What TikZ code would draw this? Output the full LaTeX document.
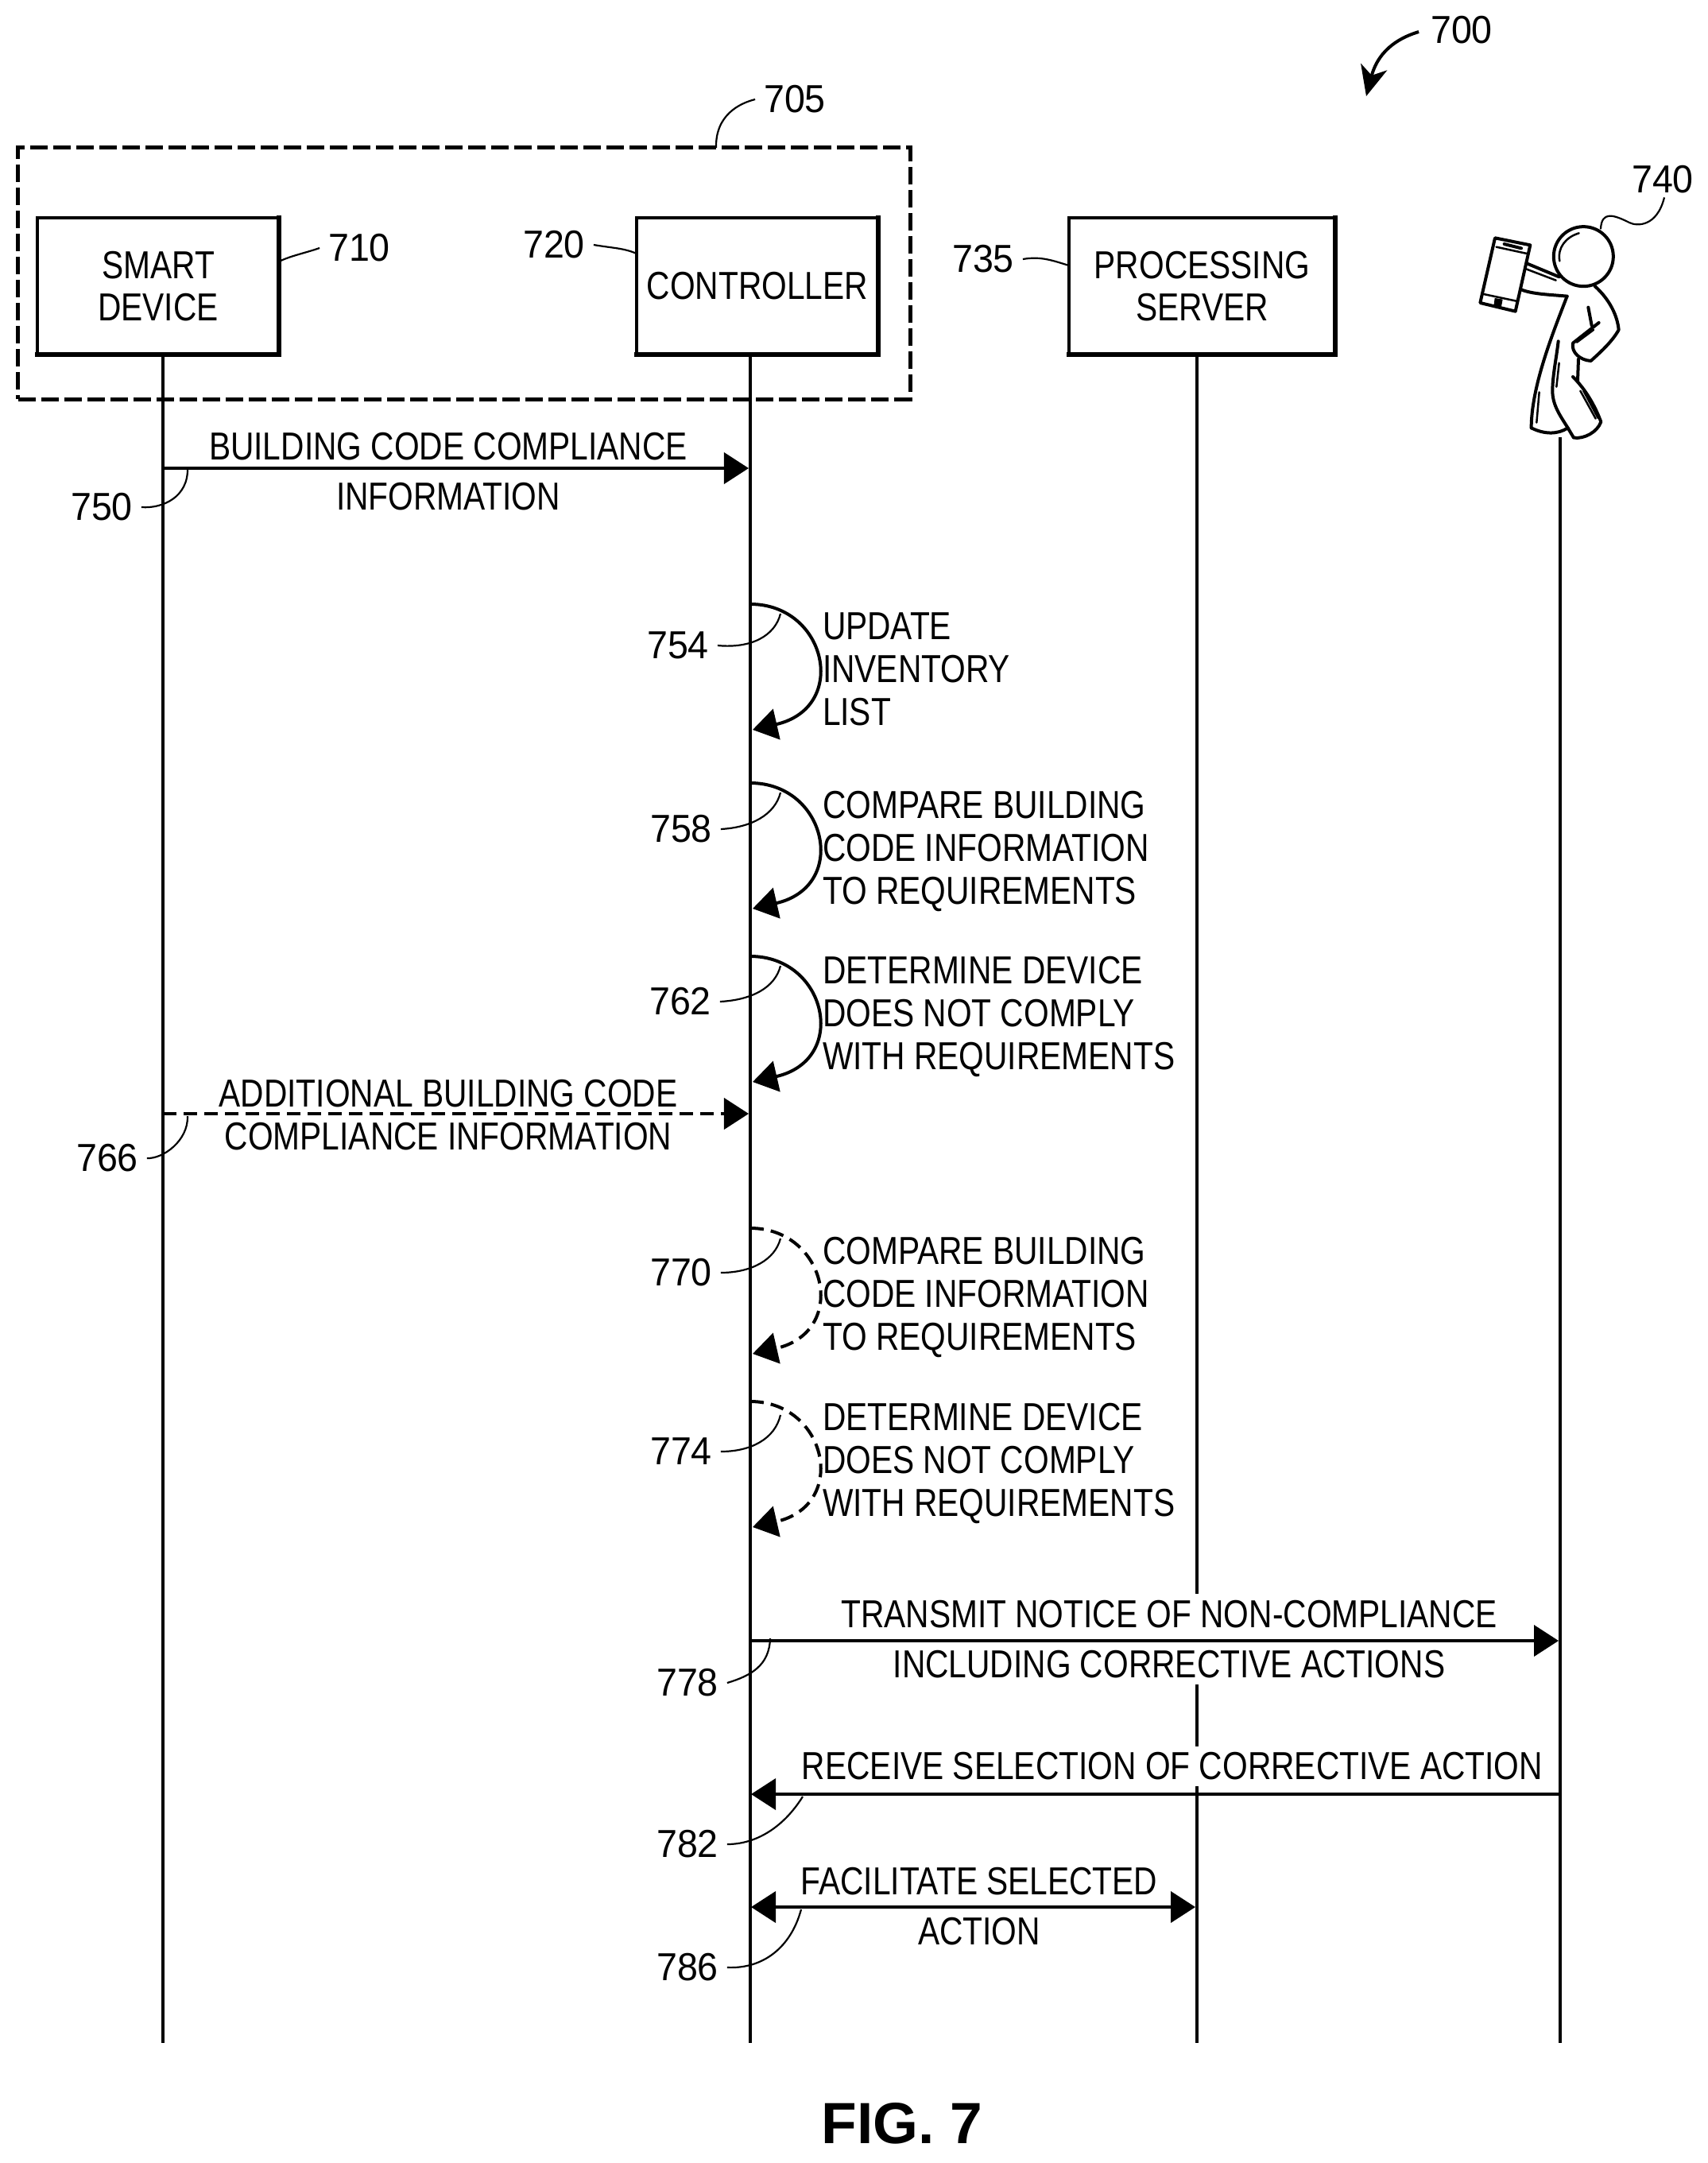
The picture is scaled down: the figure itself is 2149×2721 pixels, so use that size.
\documentclass[tikz,border=0pt]{standalone}
\usepackage{fontspec}
\setmainfont[FakeStretch=0.83]{Liberation Sans}
\newfontfamily\numfamily[FakeStretch=0.95]{Liberation Sans}
\newfontfamily\figfamily{Liberation Sans}
\newcommand{\txtfont}{\fontsize{13.95pt}{15.35pt}\selectfont}
\newcommand{\numfont}{\numfamily\fontsize{13.95pt}{15.35pt}\selectfont}
\usetikzlibrary{arrows.meta}
\tikzset{>={Triangle[length=3.1mm,width=3.9mm]}}
\tikzset{
	devbox/.style={draw, line width=.033cm, outer sep=0pt, minimum height=1.72cm, align=center, font=\txtfont, inner sep=0pt},
	boxedge/.style={line width=.06cm, line cap=rect},
	lifeline/.style={line width=.04cm},
	msgline/.style={line width=.04cm},
	dashline/.style={line width=.04cm, dash pattern=on .17cm off .09cm},
	num/.style={font=\numfont, inner sep=.11cm, outer sep=0pt},
	leader/.style={line width=.022cm},
	msgtext/.style={fill=white, align=center, font=\txtfont, inner sep=.08cm, outer sep=0pt},
	acttext/.style={anchor=west, align=left, font=\txtfont, inner sep=0pt, outer sep=0pt},
	selfloop/.style={to path={.. controls +(96,0) and +(122,-28) .. (\tikztotarget)}},
	figure/.style={line width=.04cm, line join=round, line cap=round},
	thin figure/.style={line width=.025cm, line cap=round}
}
\begin{document}
\begin{tikzpicture}[x=.01cm,y=-.01cm]
		\useasboundingbox (0,0) rectangle (2149,2721);
		
		\node[devbox, minimum width=3.04cm] (SD) at (199,360) {SMART\\[-.3pt]DEVICE};
		\node[devbox, minimum width=3.04cm] (CT) at (953,360) {CONTROLLER};
		\node[devbox, minimum width=3.35cm] (PS) at (1512.5,360) {PROCESSING\\[-.3pt]SERVER};
		\node[draw, line width=.05cm, dash pattern=on .22cm off .07cm, minimum width=11.22cm, minimum height=3.16cm, outer sep=0pt] (GR) at (584,344) {};
		
		\draw[boxedge](SD.south west) -- (SD.south east) -- (SD.north east);
		\draw[boxedge](CT.south west) -- (CT.south east) -- (CT.north east);
		\draw[boxedge](PS.south west) -- (PS.south east) -- (PS.north east);
		
		\coordinate (SDb) at (205,2570);
		\coordinate (CTb) at (944,2570);
		\coordinate (PSb) at (1506,2570);
		\coordinate (PRt) at (1963,550);
		\coordinate (PRb) at (1963,2570);
		
		\draw[lifeline](SD.south -| SDb) -- (SDb);
		\draw[lifeline](CT.south -| CTb) -- (CTb);
		\draw[lifeline](PS.south -| PSb) -- (PSb);
		\draw[lifeline](PRt) -- (PRb);
		
		% texts of the messages
		\node[msgtext] (T750) at (564,593) {BUILDING CODE COMPLIANCE\\[2.4pt]INFORMATION};
		\node[msgtext] (T766) at (564,1403) {ADDITIONAL BUILDING CODE\\COMPLIANCE INFORMATION};
		\node[msgtext] (T778) at (1471,2062) {TRANSMIT NOTICE OF NON-COMPLIANCE\\[2.4pt]INCLUDING CORRECTIVE ACTIONS};
		\node[msgtext] (T782) at (1475,2222) {RECEIVE SELECTION OF CORRECTIVE ACTION};
		\node[msgtext] (T786) at (1232,2398) {FACILITATE SELECTED\\[2.4pt]ACTION};
		
		% texts beside the controller
		\node[acttext] (T754) at (1035,842) {UPDATE\\INVENTORY\\LIST};
		\node[acttext] (T758) at (1035,1071) {COMPARE BUILDING\\CODE INFORMATION\\TO REQUIREMENTS};
		\node[acttext] (T762) at (1035,1279) {DETERMINE DEVICE\\DOES NOT COMPLY\\WITH REQUIREMENTS};
		\node[acttext] (T770) at (1035,1632) {COMPARE BUILDING\\CODE INFORMATION\\TO REQUIREMENTS};
		\node[acttext] (T774) at (1035,1841) {DETERMINE DEVICE\\DOES NOT COMPLY\\WITH REQUIREMENTS};
		
		\coordinate (M750a) at (205,589);
		\coordinate (M750b) at (942,589);
		\coordinate (M766a) at (205,1401);
		\coordinate (M766b) at (942,1401);
		\coordinate (M778a) at (944,2064);
		\coordinate (M778b) at (1961,2064);
		\coordinate (M782a) at (1963,2257);
		\coordinate (M782b) at (945,2257);
		\coordinate (M786a) at (945,2399);
		\coordinate (M786b) at (1504,2399);
		
		\draw[->, msgline](M750a) -- (M750b);
		\draw[->, dashline](M766a) -- (M766b);
		\draw[->, msgline](M778a) -- (M778b);
		\draw[->, msgline](M782a) -- (M782b);
		\draw[<->, msgline](M786a) -- (M786b);
		
		\coordinate (S754a) at (944,760);
		\coordinate (S754b) at (947,918);
		\coordinate (S758a) at (944,985);
		\coordinate (S758b) at (947,1143);
		\coordinate (S762a) at (944,1203);
		\coordinate (S762b) at (947,1361);
		\coordinate (S770a) at (944,1545);
		\coordinate (S770b) at (947,1703);
		\coordinate (S774a) at (944,1763);
		\coordinate (S774b) at (947,1921);
		
		\draw[->, msgline](S754a) to [selfloop] (S754b);
		\draw[->, msgline](S758a) to [selfloop] (S758b);
		\draw[->, msgline](S762a) to [selfloop] (S762b);
		\draw[->, dashline](S770a) to [selfloop] (S770b);
		\draw[->, dashline](S774a) to [selfloop] (S774b);
		
		% the user with the phone
		\begin{scope}[shift={(1780,180)},scale=.3333]
			\node[draw, circle, line width=.04cm, minimum size=.75cm, inner sep=0pt, outer sep=0pt] (PH) at (637,428) {};
			\draw[figure] (303,358) -- (436,385) -- (380,635) -- (247,603) -- cycle;
			\draw[thin figure] (308,392) -- (428,418);
			\draw[thin figure] (260,570) -- (388,597);
			\draw[figure] (338,381) -- (402,397);
			\fill (302,585) -- (332,590) -- (326,622) -- (298,616) -- cycle;
			\draw[figure] (425,455) -- (545,505);
			\draw[thin figure] (420,475) -- (533,518);
			\draw[figure] (400,552) .. controls (440,570) and (510,572) .. (575,578);
			\draw[figure] (575,578) .. controls (520,720) and (440,920) .. (440,1075);
			\draw[figure] (440,1075) .. controls (490,1100) and (540,1100) .. (578,1075);
			\draw[figure] (542,748) .. controls (535,810) and (520,880) .. (520,935) .. controls (520,990) and (550,1030) .. (578,1075) -- (600,1112) .. controls (640,1118) and (690,1090) .. (703,1052) .. controls (680,990) and (645,930) .. (597,882);
			\draw[figure] (618,815) -- (615,900);
			\draw[figure] (680,540) .. controls (735,590) and (765,650) .. (770,705) .. controls (745,750) and (700,790) .. (665,822) .. controls (625,820) and (590,790) .. (597,755) -- (695,678);
			\draw[figure] (655,620) -- (668,688);
			\draw[thin figure] (612,752) -- (675,705);
			\draw[thin figure] (625,935) -- (683,1040);
			\draw[thin figure] (637,935) -- (692,1038);
			\draw[thin figure] (470,940) -- (460,1055);
			\draw[thin figure] (545,830) -- (535,920);
			\draw[thin figure] (620,340) .. controls (570,355) and (538,395) .. (547,445);
			\coordinate (L740) at (702,325);
		\end{scope}
		
		% reference numbers
		\node[num] (n700) at (1839,38) {700};
		\node[num] (n705) at (1000,125) {705};
		\node[num] (n710) at (452,312) {710};
		\node[num] (n720) at (697,308) {720};
		\node[num] (n735) at (1237,326) {735};
		\node[num] (n740) at (2092,226) {740};
		\node[num] (n750) at (128,638) {750};
		\node[num] (n754) at (853,812) {754};
		\node[num] (n758) at (857,1043) {758};
		\node[num] (n762) at (856,1260) {762};
		\node[num] (n766) at (135,1457) {766};
		\node[num] (n770) at (857,1601) {770};
		\node[num] (n774) at (857,1826) {774};
		\node[num] (n778) at (865,2117) {778};
		\node[num] (n782) at (865,2320) {782};
		\node[num] (n786) at (865,2475) {786};
		
		\coordinate (L700) at (1719,121);
		\draw[-{Stealth[length=3.8mm,width=3.4mm,inset=1.1mm]}, line width=.04cm](n700.west) ++(-4,2) .. controls (1765,46) and (1735,60) .. (L700);
		
		\draw[leader](n705.west) .. controls (930,130) and (900,145) .. (GR.north -| 901,0);
		\draw[leader](n710.west) .. controls (385,318) and (365,322) .. (SD.east |- 0,329);
		\draw[leader](n720.east) .. controls (770,312) and (785,312) .. (CT.west |- 0,319);
		\draw[leader](n735.east) .. controls (1310,322) and (1325,328) .. (PS.west |- 0,334);
		\draw[leader](n740.south) ++(2,-6) .. controls (2085,285) and (2060,285) .. (2050,280) .. controls (2030,270) and (2015,265) .. (L740);
		
		\draw[leader](n750.east) .. controls (205,640) and (237,625) .. (236,589);
		\draw[leader](n766.east) .. controls (205,1458) and (237,1435) .. (236,1404);
		\draw[leader](n754.east) .. controls (945,816) and (975,800) .. (982,772);
		\draw[leader](n758.east) .. controls (945,1041) and (975,1025) .. (982,997);
		\draw[leader](n762.east) .. controls (945,1258) and (975,1243) .. (982,1215);
		\draw[leader](n770.east) .. controls (945,1601) and (975,1585) .. (982,1558);
		\draw[leader](n774.east) .. controls (945,1826) and (975,1810) .. (982,1780);
		\draw[leader](n778.east) .. controls (945,2108) and (968,2095) .. (969,2061);
		\draw[leader](n782.east) .. controls (950,2320) and (985,2300) .. (1010,2260);
		\draw[leader](n786.east) .. controls (960,2477) and (995,2450) .. (1008,2402);
		
		\node[font=\figfamily\fontsize{20.8pt}{24pt}\selectfont\bfseries, inner sep=0pt] (FIG) at (1135,2671) {FIG. 7};
\end{tikzpicture}
\end{document}
